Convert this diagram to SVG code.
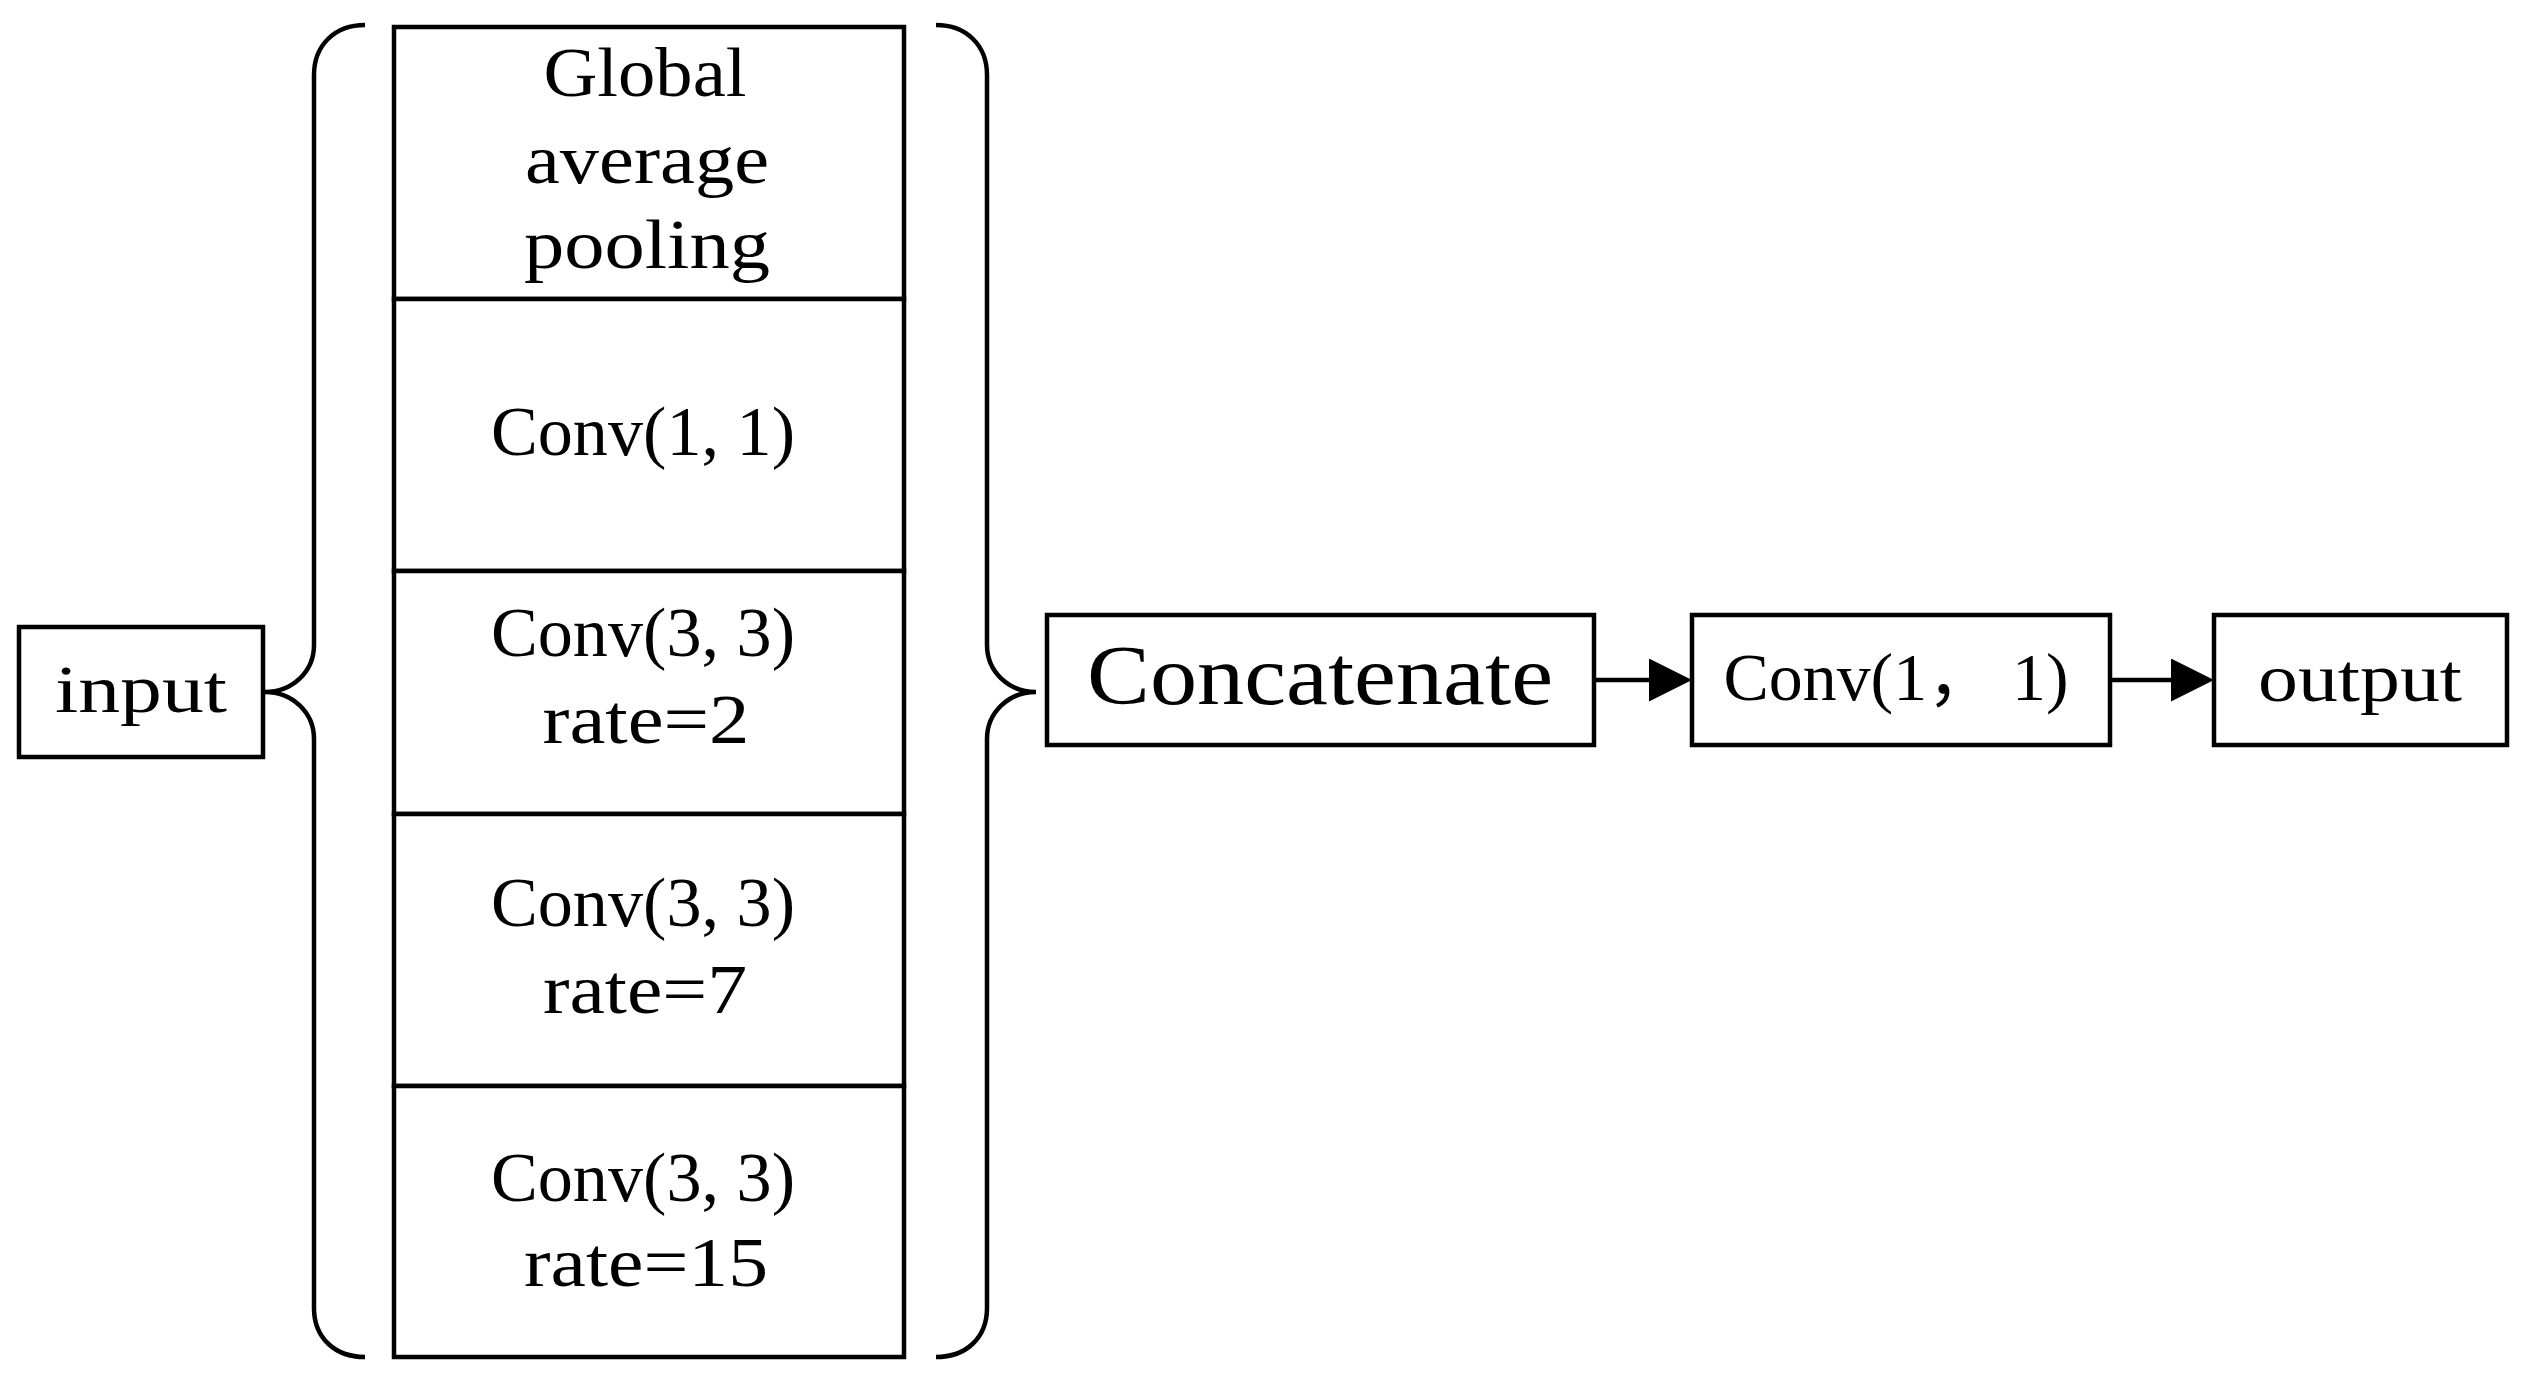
<svg xmlns="http://www.w3.org/2000/svg" width="2522" height="1387" viewBox="0 0 2522 1387">
<style>
.box{fill:#fff;stroke:#000;stroke-width:4.5}
.t{font-family:"Liberation Serif","Noto Sans CJK SC",serif;font-size:70px;fill:#000;text-anchor:middle}
.s{font-size:68px}
.big{font-size:84px}
.ln{fill:none;stroke:#000;stroke-width:4.5}
</style>
<defs>
<marker id="ah" markerUnits="userSpaceOnUse" viewBox="0 0 43 43" refX="11" refY="21.5" markerWidth="43" markerHeight="43" orient="auto">
<path d="M0,0 L43,21.5 L0,43 Z" fill="#000"/>
</marker>
</defs>
<rect width="2522" height="1387" fill="#fff"/>
<g id="input">
<rect class="box" x="19" y="627" width="244" height="130"/>
<text class="t s" x="141" y="712" textLength="172" lengthAdjust="spacingAndGlyphs">input</text>
</g>
<g id="gap">
<rect class="box" x="394" y="27" width="510" height="272"/>
<text class="t" x="645" y="96" textLength="203" lengthAdjust="spacingAndGlyphs">Global</text>
<text class="t" x="647" y="183" textLength="244" lengthAdjust="spacingAndGlyphs">average</text>
<text class="t" x="647" y="268" textLength="246" lengthAdjust="spacingAndGlyphs">pooling</text>
</g>
<g id="conv11">
<rect class="box" x="394" y="299" width="510" height="272"/>
<text class="t" x="643" y="455" textLength="304" lengthAdjust="spacingAndGlyphs">Conv(1, 1)</text>
</g>
<g id="conv33r2">
<rect class="box" x="394" y="571" width="510" height="243"/>
<text class="t" x="643" y="656" textLength="304" lengthAdjust="spacingAndGlyphs">Conv(3, 3)</text>
<text class="t" x="646" y="743" textLength="207" lengthAdjust="spacingAndGlyphs">rate=2</text>
</g>
<g id="conv33r7">
<rect class="box" x="394" y="814" width="510" height="272"/>
<text class="t" x="643" y="926" textLength="304" lengthAdjust="spacingAndGlyphs">Conv(3, 3)</text>
<text class="t" x="645" y="1013" textLength="204" lengthAdjust="spacingAndGlyphs">rate=7</text>
</g>
<g id="conv33r15">
<rect class="box" x="394" y="1086" width="510" height="271"/>
<text class="t" x="643" y="1201" textLength="304" lengthAdjust="spacingAndGlyphs">Conv(3, 3)</text>
<text class="t" x="646" y="1286" textLength="244" lengthAdjust="spacingAndGlyphs">rate=15</text>
</g>
<g id="concat">
<rect class="box" x="1047" y="615" width="547" height="130"/>
<text class="t big" x="1320" y="704" textLength="466" lengthAdjust="spacingAndGlyphs">Concatenate</text>
</g>
<g id="conv11b">
<rect class="box" x="1692" y="615" width="418" height="130"/>
<text class="t s" x="1896" y="700" textLength="345" lengthAdjust="spacingAndGlyphs">Conv(1， 1)</text>
</g>
<g id="output">
<rect class="box" x="2214" y="615" width="293" height="130"/>
<text class="t s" x="2360" y="701" textLength="204" lengthAdjust="spacingAndGlyphs">output</text>
</g>
<g id="connectors">
<path class="ln" d="M365,25 C335,25 314,45 314,75 L314,645 C314,672 292,692 265,692 C292,692 314,712 314,739 L314,1308 C314,1338 335,1357 365,1357"/>
<path class="ln" d="M936,25 C966,25 987,45 987,75 L987,645 C987,672 1009,692 1036,692 C1009,692 987,712 987,739 L987,1308 C987,1338 966,1357 936,1357"/>
<line class="ln" x1="1594" y1="680" x2="1660" y2="680" marker-end="url(#ah)"/>
<line class="ln" x1="2110" y1="680" x2="2182" y2="680" marker-end="url(#ah)"/>
</g>
</svg>
